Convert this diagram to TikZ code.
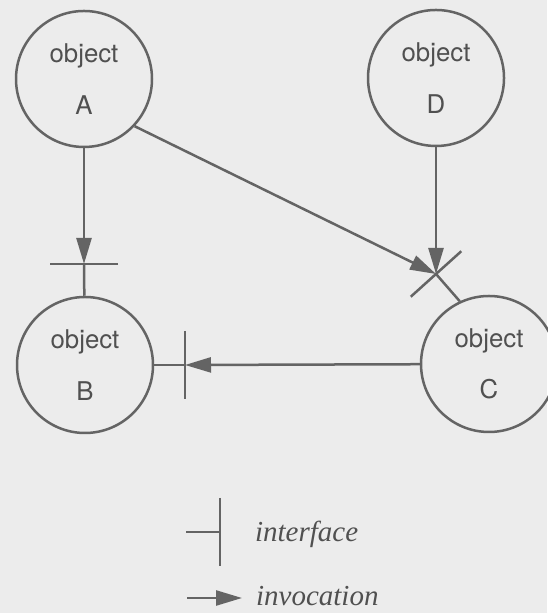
\documentclass[tikz,border=0pt]{standalone}
\usepackage{fontspec}
\usepackage{tikz}
\usetikzlibrary{arrows.meta}
\usetikzlibrary{calc}
\newfontfamily\objfont{TeX Gyre Heros}
\newfontfamily\keyfont{Liberation Serif}
\definecolor{paper}{RGB}{236,236,236}
\definecolor{inkline}{RGB}{100,100,100}
\definecolor{inktext}{RGB}{80,80,80}
\tikzset{
  objnode/.style={circle, draw=inkline, line width=1.25pt, minimum size=68pt,
                  inner sep=0pt, text=inktext, align=center,
                  font=\objfont\fontsize{12.9}{25.8}\selectfont},
  iface/.style={draw=inkline, line width=1.25pt},
  invoke/.style={iface, -{Triangle[length=13pt, width=7.5pt]}},
  keytext/.style={anchor=base west, text=inktext,
                  font=\keyfont\itshape\fontsize{14.5}{17}\selectfont}}
% interface bar: point, angle
\newcommand{\ifbar}[2]{\draw[iface] ($(#1)+(#2:34)$) -- ($(#1)+(#2+180:34)$);}

\begin{document}
\begin{tikzpicture}[x=0.5pt, y=0.5pt]
  \fill[paper] (0,0) rectangle (547,613);
  \useasboundingbox (0,0) rectangle (547,613);
  % objects
  \node[objnode] (A) at (84,534) {object\\A};
  \node[objnode] (D) at (436,535) {object\\D};
  \node[objnode] (B) at (85,248) {object\\B};
  \node[objnode] (C) at (489,249) {object\\C};
  % interface points
  \coordinate (ifB) at (84,349);
  \coordinate (ifBr) at (185,248);
  \coordinate (ifC) at (436,339);
  \ifbar{ifB}{0}
  \ifbar{ifBr}{90}
  \ifbar{ifC}{42}
  \draw[iface] (ifB) -- (B);
  \draw[iface] (ifBr) -- (B);
  \draw[iface] (ifC) -- (C.115);
  % invocations
  \draw[invoke] (A) -- (ifB);
  \draw[invoke] (A.317) -- (ifC);
  \draw[invoke] (D) -- (ifC);
  \draw[invoke] (C) -- (ifBr);
  % key
  \coordinate (keyIa) at (186,81);
  \coordinate (keyI) at (220,81);
  \draw[iface] (keyIa) -- (keyI);
  \ifbar{keyI}{90}
  \node[keytext] (keyItxt) at (248,71) {interface};
  \coordinate (keyVa) at (187,15);
  \coordinate (keyVb) at (242,15);
  \draw[invoke] (keyVa) -- (keyVb);
  \node[keytext] (keyVtxt) at (249,7) {invocation};
\end{tikzpicture}
\end{document}
